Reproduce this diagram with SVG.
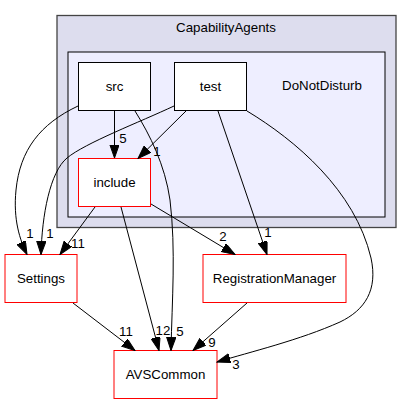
<svg xmlns="http://www.w3.org/2000/svg" width="412" height="404" viewBox="0 0 412 404">
<style>
text{font-family:"Liberation Sans",Arial,Helvetica,sans-serif;font-size:13.3px;fill:#000;text-anchor:middle}
.outer{fill:#ddddee;stroke:#444444;stroke-width:1.3}
.inner{fill:#eeeeff;stroke:#000;stroke-width:1}
.dir{fill:#fff;stroke:#000;stroke-width:1}
.ext{fill:#fff;stroke:#ff0000;stroke-width:1}
.edge{fill:none;stroke:#000;stroke-width:1;marker-end:url(#arrow)}
</style>
<defs>
<marker id="arrow" markerUnits="userSpaceOnUse" markerWidth="14" markerHeight="10" refX="13.3" refY="4.65" orient="auto">
<path d="M0,0 L13.3,4.65 L0,9.3 z" fill="#000" stroke="#000" stroke-width="1"/>
</marker>
</defs>
<rect width="412" height="404" fill="#fff"/>
<g id="cluster_CapabilityAgents">
<rect class="outer" x="57" y="15.5" width="339" height="212"/>
<text x="226" y="32">CapabilityAgents</text>
</g>
<g id="cluster_DoNotDisturb">
<rect class="inner" x="68" y="52" width="317" height="165"/>
<text x="322" y="90">DoNotDisturb</text>
</g>
<g id="node_src">
<rect class="dir" x="78.5" y="62.5" width="72" height="48"/>
<text x="114.5" y="91">src</text>
</g>
<g id="node_test">
<rect class="dir" x="174.5" y="62.5" width="72" height="48"/>
<text x="210.5" y="91">test</text>
</g>
<g id="node_include">
<rect class="ext" x="78.5" y="158.5" width="72" height="48"/>
<text x="114.5" y="187">include</text>
</g>
<g id="node_Settings">
<rect class="ext" x="5" y="254.5" width="72" height="48"/>
<text x="41" y="283">Settings</text>
</g>
<g id="node_RegistrationManager">
<rect class="ext" x="203" y="254.5" width="143" height="48"/>
<text x="274.5" y="283">RegistrationManager</text>
</g>
<g id="node_AVSCommon">
<rect class="ext" x="114" y="350.5" width="103" height="48"/>
<text x="165.5" y="379">AVSCommon</text>
</g>
<g id="edges">
<path class="edge" d="M114.5,111 L114.5,158"/>
<text x="123" y="143">5</text>
<path class="edge" d="M186,111 L138,158.5"/>
<text x="157" y="156">1</text>
<path class="edge" d="M78,106 C40,124 20,150 16,190 C13,220 20,240 27,254.5"/>
<text x="30" y="238">1</text>
<path class="edge" d="M174,106 C140,122 85,143 67,158 C50,172 42,215 41,254.5"/>
<text x="50" y="238">1</text>
<path class="edge" d="M135,111 C150,135 165,165 170,200 C176,250 172,300 171,350.5"/>
<text x="180" y="336">5</text>
<path class="edge" d="M121,207 L159,350.5"/>
<text x="163" y="335">12</text>
<path class="edge" d="M95,207 L60,254.5"/>
<text x="78" y="248">11</text>
<path class="edge" d="M151,204 L235,254.5"/>
<text x="223" y="241">2</text>
<path class="edge" d="M218,111 L267,254.5"/>
<text x="268" y="237">1</text>
<path class="edge" d="M247,111 C295,140 355,190 371,258 C378,290 365,310 340,322 C300,340 250,352 217,362"/>
<text x="236" y="369">3</text>
<path class="edge" d="M73,303 L135,350.5"/>
<text x="126" y="336">11</text>
<path class="edge" d="M247,303 L193,350.5"/>
<text x="212" y="347">9</text>
</g>
</svg>
